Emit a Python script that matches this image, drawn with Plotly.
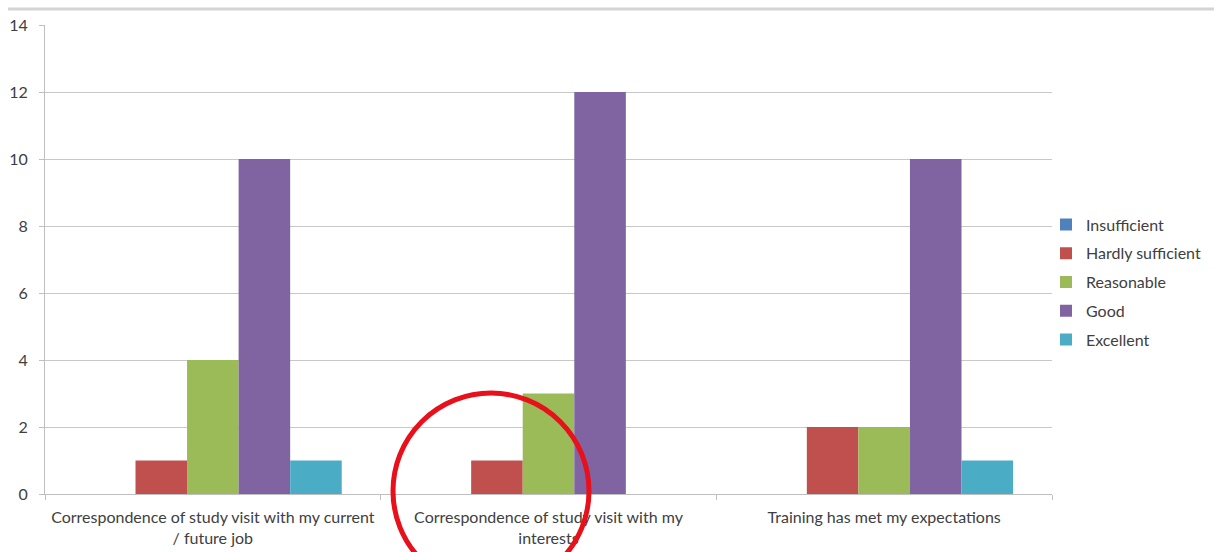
import plotly.graph_objects as go

# Survey answers per question, counts per rating
categories = [
    "Correspondence of study visit with my current<br>/ future job",
    "Correspondence of study visit with my<br>interests",
    "Training has met my expectations",
]
insufficient = [0, 0, 0]
hardly_sufficient = [1, 1, 2]
reasonable = [4, 3, 2]
good = [10, 12, 10]
excellent = [1, 0, 1]

series = [
    ("Insufficient", insufficient, "#4F81BD"),
    ("Hardly sufficient", hardly_sufficient, "#C0504D"),
    ("Reasonable", reasonable, "#9BBB59"),
    ("Good", good, "#8064A2"),
    ("Excellent", excellent, "#4BACC6"),
]

W, H = 1214, 552
L, R, T, B = 45, 162, 25, 58
pw, ph = W - L - R, H - T - B

text_color = "#404040"
font = dict(family="Lato, Open Sans, sans-serif", size=16, color=text_color)

fig = go.Figure()
for name, vals, color in series:
    fig.add_trace(go.Bar(name=name, x=categories, y=vals, legendgroup=name,
                         marker=dict(color=color, line=dict(width=0))))


def px_x(p):
    return (p - L) / pw


def px_y(p):
    return (H - B - p) / ph


shapes = [
    # light rule across the top of the chart
    dict(type="line", xref="paper", yref="paper",
         x0=px_x(8), x1=px_x(W), y0=px_y(9), y1=px_y(9),
         line=dict(color="#d4d4d4", width=3)),
    # red circle highlighting the second question
    dict(type="circle", xref="paper", yref="paper",
         x0=px_x(393), x1=px_x(589), y0=px_y(589), y1=px_y(393),
         line=dict(color="#e8101a", width=5)),
]

fig.update_layout(
    width=W, height=H,
    margin=dict(l=L, r=R, t=T, b=B, autoexpand=False),
    barmode="group", bargap=0.232, bargroupgap=0,
    plot_bgcolor="white", paper_bgcolor="white",
    font=font,
    legend=dict(x=px_x(1046), y=px_y(282), xanchor="left", yanchor="middle",
                font=dict(size=16, color=text_color), tracegroupgap=5,
                itemwidth=30, bgcolor="rgba(0,0,0,0)"),
    shapes=shapes,
    xaxis=dict(showgrid=False, showline=True, linecolor="#bfbfbf", linewidth=1,
               ticks="outside", tickson="boundaries", ticklen=5, tickcolor="#bfbfbf",
               ticklabelstandoff=9,
               tickfont=dict(size=16, color=text_color)),
    yaxis=dict(range=[0, 14], dtick=2, showgrid=True, gridcolor="#c8c8c8", gridwidth=1,
               showline=True, linecolor="#bfbfbf", linewidth=1, zeroline=False,
               ticks="outside", ticklen=5, tickcolor="#bfbfbf",
               ticklabelstandoff=8,
               tickfont=dict(size=16, color=text_color)),
)

fig.write_html("out.html")
